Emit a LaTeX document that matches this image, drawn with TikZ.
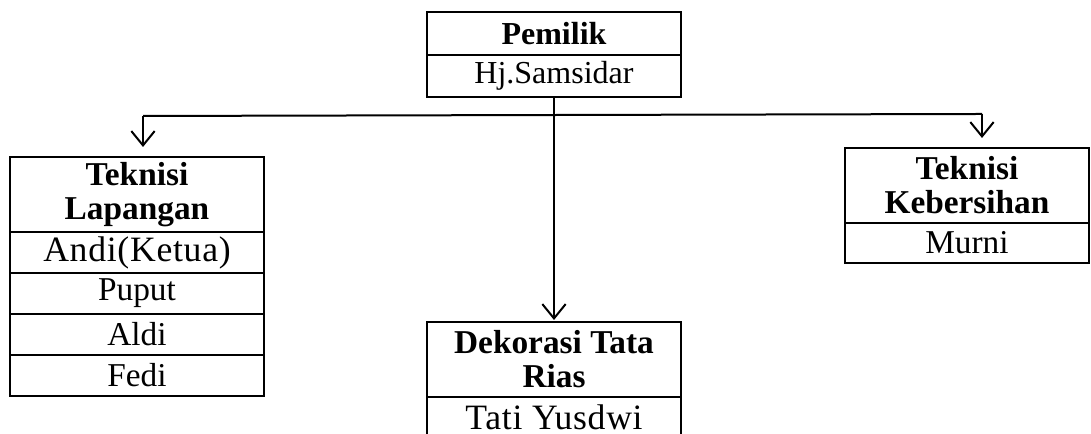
\documentclass[tikz,border=0pt]{standalone}
\usepackage{fontspec}
\setmainfont{Liberation Serif}
\usetikzlibrary{positioning,arrows.meta}

\tikzset{
  cell/.style={draw, line width=0.6pt, inner sep=0pt, outer sep=0pt, align=center,
    font=\fontsize{10}{10}\selectfont},
  headbox/.style={cell, font=\fontsize{10}{10.2}\selectfont\bfseries},
  namebox/.style={cell, minimum height=12.3pt},
  small/.style={font=\fontsize{9.6}{9.6}\selectfont},
  smallbold/.style={font=\fontsize{9.6}{9.6}\selectfont\bfseries},
  spaced/.style={font=\fontsize{10.7}{10.7}\selectfont\addfontfeature{LetterSpace=2}},
  wide/.style={minimum width=76.2pt},
  narrow/.style={minimum width=73.2pt},
  arr/.style={line width=0.6pt, -{Straight Barb[length=4.3pt,width=7pt]}},
}

\begin{document}
\begin{tikzpicture}[x=0.3pt, y=-0.3pt]
    \clip (0,0) rectangle (1091,434);

    % Owner
    \node[headbox, smallbold, wide, minimum height=12.9pt, anchor=north west] (pemilik) at (427,12) {Pemilik};
    \node[namebox, small, wide, minimum height=12.6pt, below=0pt of pemilik] (samsidar) {Hj.Samsidar};

    % Field technicians
    \node[headbox, wide, minimum height=22.5pt, anchor=north west] (lapangan) at (10,157) {Teknisi\\Lapangan};
    \node[namebox, spaced, wide, below=0pt of lapangan] (andi) {Andi(Ketua)};
    \node[namebox, wide, below=0pt of andi] (puput) {Puput};
    \node[namebox, wide, below=0pt of puput] (aldi) {Aldi};
    \node[namebox, wide, below=0pt of aldi] (fedi) {Fedi};

    % Decoration
    \node[headbox, wide, minimum height=22.5pt, anchor=north west] (dekorasi) at (427,322) {Dekorasi Tata\\Rias};
    \node[namebox, spaced, wide, below=0pt of dekorasi] (tati) {Tati Yusdwi};

    % Cleaning technicians
    \node[headbox, narrow, minimum height=22.5pt, anchor=north west] (kebersihan) at (845,148) {Teknisi\\Kebersihan};
    \node[namebox, narrow, minimum height=12pt, below=0pt of kebersihan] (murni) {Murni};

    % Connectors
    \coordinate (lft) at (143,116);
    \coordinate (rgt) at (982,114);
    \draw[line width=0.6pt] (lft) -- (rgt);
    \draw[arr, shorten >=3pt] (lft) -- (lft |- lapangan.north);
    \draw[arr, shorten >=3pt] (rgt) -- (rgt |- kebersihan.north);
    \draw[arr, shorten >=0.6pt] (samsidar.south) -- (dekorasi.north);
\end{tikzpicture}
\end{document}
